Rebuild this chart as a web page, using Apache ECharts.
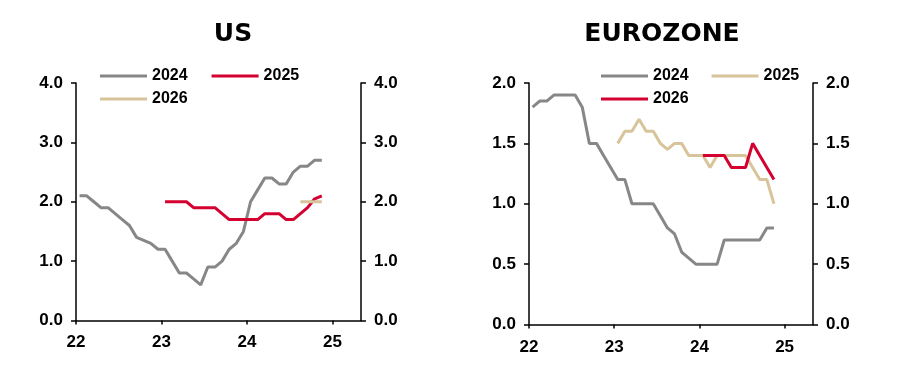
<!DOCTYPE html>
<html>
<head>
<meta charset="utf-8">
<script src="https://cdn.jsdelivr.net/npm/echarts@6/dist/echarts.min.js"></script>
<style>
html,body{margin:0;padding:0;background:#fff;}
#us{position:absolute;left:0;top:0;width:455px;height:379px;}
#ez{position:absolute;left:455px;top:0;width:454px;height:379px;}
</style>
</head>
<body>
<div id="us"></div>
<div id="ez"></div>
<script>
// Monthly survey dates: Jan-22 .. Nov-24 (35 months), plotted mid-month
const startYear = 22;
const nMonths = 35;
const xTicks = [22, 23, 24, 25];

// US forecasts by survey month (null = not yet surveyed)
const us2024 = [2.1,2.1,2.0,1.9,1.9,1.8,1.7,1.6,1.4,1.35,1.3,1.2,1.2,1.0,0.8,0.8,0.7,0.6,0.9,0.9,1.0,1.2,1.3,1.5,2.0,2.2,2.4,2.4,2.3,2.3,2.5,2.6,2.6,2.7,2.7];
const us2025 = [null,null,null,null,null,null,null,null,null,null,null,null,
  2.0,2.0,2.0,2.0,1.9,1.9,1.9,1.9,1.8,1.7,1.7,1.7,1.7,1.7,1.8,1.8,1.8,1.7,1.7,1.8,1.9,2.05,2.1];
const us2026 = [null,null,null,null,null,null,null,null,null,null,null,null,
  null,null,null,null,null,null,null,null,null,null,null,null,null,null,null,null,null,null,null,
  2.0,2.0,2.0,2.0];

// Eurozone forecasts by survey month
const ez2024 = [1.8,1.85,1.85,1.9,1.9,1.9,1.9,1.8,1.5,1.5,1.4,1.3,1.2,1.2,1.0,1.0,1.0,1.0,0.9,0.8,0.75,0.6,0.55,0.5,0.5,0.5,0.5,0.7,0.7,0.7,0.7,0.7,0.7,0.8,0.8];
const ez2025 = [null,null,null,null,null,null,null,null,null,null,null,null,
  1.5,1.6,1.6,1.7,1.6,1.6,1.5,1.45,1.5,1.5,1.4,1.4,1.4,1.3,1.4,1.4,1.4,1.4,1.4,1.3,1.2,1.2,1.0];
const ez2026 = [null,null,null,null,null,null,null,null,null,null,null,null,
  null,null,null,null,null,null,null,null,null,null,null,null,
  1.4,1.4,1.4,1.4,1.3,1.3,1.3,1.5,1.4,1.3,1.2];

const usTicks = [0, 1, 2, 3, 4];
const ezTicks = [0, 0.5, 1, 1.5, 2];

const GRAY = '#878787', RED = '#D4002F', TAN = '#D8C49A';
const FONT = 'Liberation Sans, Arial, sans-serif';

function pairs(vals) {
  const out = [];
  vals.forEach((v, i) => { if (v !== null) out.push([startYear + (i + 0.5) / 12, v]); });
  return out;
}

function build(cfg) {
  const lbl = {fontFamily: FONT, fontWeight: 'bold', fontSize: 17, color: '#000'};
  const yAxisBase = (pos) => ({
    type: 'value', position: pos, min: cfg.yTicks[0], max: cfg.yTicks[cfg.yTicks.length - 1],
    interval: cfg.yTicks[1] - cfg.yTicks[0],
    axisLine: {show: true, lineStyle: {color: '#000', width: 1.5}},
    axisTick: {show: true, length: 5, lineStyle: {color: '#000', width: 1.5}},
    splitLine: {show: false},
    axisLabel: Object.assign({margin: 13, formatter: v => v.toFixed(1)}, lbl)
  });
  const legendBase = {
    icon: 'rect', itemWidth: 47, itemHeight: 3, padding: 0, itemGap: cfg.legendGap,
    textStyle: {fontFamily: FONT, fontWeight: 'bold', fontSize: 16, color: '#000'},
    selectedMode: false
  };
  return {
    animation: false,
    backgroundColor: '#fff',
    title: {
      text: cfg.title, left: cfg.titleX, top: 22, textAlign: 'center', padding: 0,
      textStyle: {fontFamily: 'DejaVu Sans, sans-serif', fontWeight: 'bold', fontSize: 25, color: '#000'}
    },
    legend: [
      Object.assign({left: cfg.legendX, top: 68, data: cfg.series.slice(0, 2).map(s => s.name)}, legendBase),
      Object.assign({left: cfg.legendX, top: 91, data: [cfg.series[2].name]}, legendBase)
    ],
    grid: cfg.grid,
    xAxis: {
      type: 'value', min: xTicks[0], max: 25 + 4 / 12, interval: 1,
      axisLine: {show: true, onZero: false, lineStyle: {color: '#000', width: 1.5}},
      axisTick: {show: true, length: 4, customValues: xTicks, lineStyle: {color: '#000', width: 1.5}},
      splitLine: {show: false},
      axisLabel: Object.assign({margin: cfg.xMargin, customValues: xTicks,
        formatter: v => Number.isInteger(v) ? String(v) : ''}, lbl)
    },
    yAxis: [yAxisBase('left'), yAxisBase('right')],
    series: cfg.series.map(s => ({
      name: s.name, type: 'line', data: pairs(s.data), symbol: 'none', z: s.z,
      lineStyle: {color: s.color, width: 3}, itemStyle: {color: s.color}
    }))
  };
}

const usChart = echarts.init(document.getElementById('us'));
usChart.setOption(build({
  title: 'US', titleX: 233, legendX: 100, legendGap: 24, xMargin: 13,
  grid: {left: 76, top: 83, width: 285, height: 237.5},
  yTicks: usTicks,
  series: [
    {name: '2024', data: us2024, color: GRAY, z: 2},
    {name: '2025', data: us2025, color: RED, z: 3},
    {name: '2026', data: us2026, color: TAN, z: 4}
  ]
}));

const ezChart = echarts.init(document.getElementById('ez'));
ezChart.setOption(build({
  title: 'EUROZONE', titleX: 207, legendX: 146, legendGap: 23, xMargin: 14,
  grid: {left: 74, top: 83, width: 284, height: 241.5},
  yTicks: ezTicks,
  series: [
    {name: '2024', data: ez2024, color: GRAY, z: 2},
    {name: '2025', data: ez2025, color: TAN, z: 3},
    {name: '2026', data: ez2026, color: RED, z: 4}
  ]
}));
</script>
</body>
</html>
